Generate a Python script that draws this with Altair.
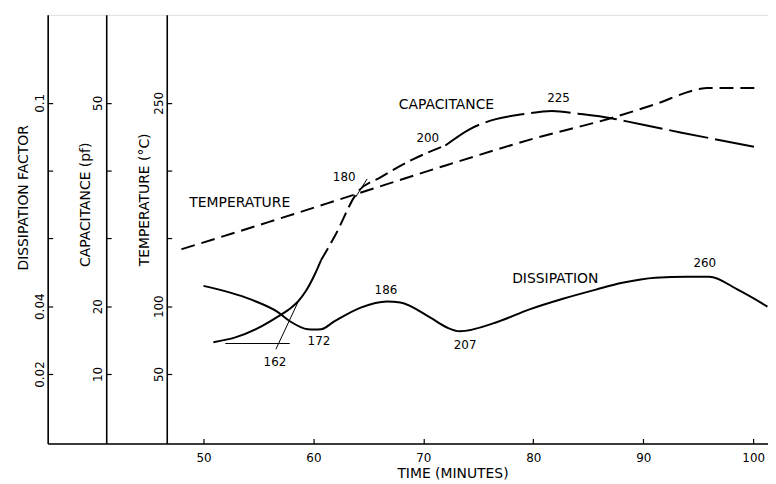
import altair as alt
import pandas as pd

FONT = "DejaVu Sans"

# ---- data ----
# Temperature (deg C) vs time (minutes)
temp_time = [48.0, 55.9, 64.0, 72.1, 80.2, 87.2, 91.1, 95.0, 95.8, 100.7]
temp_degc = [142, 162, 183, 204, 224, 239, 249, 260, 261, 261]

# Capacitance (pF) vs time
cap_time = [50.9, 52.9, 55.0, 56.8, 58.0, 58.6, 59.3, 60.1, 60.7, 61.9, 64.0, 66.1,
            69.1, 72.0, 74.2, 76.6, 79.0, 81.7, 84.1, 87.2, 88.4, 93.5, 100.5]
cap_pf = [14.7, 15.4, 16.8, 18.5, 19.8, 20.7, 22.2, 24.6, 26.8, 30.2, 36.8, 39.0,
          41.7, 43.7, 46.1, 47.6, 48.3, 48.8, 48.4, 47.7, 47.3, 45.6, 43.4]
cap_solid_end = 60.7
cap_short_dash_end = 72.0

# Dissipation factor vs time
diss_time = [50.0, 54.3, 56.8, 57.9, 59.5, 60.1, 60.7, 61.9, 64.3, 66.7, 67.9, 70.6,
             72.1, 73.3, 76.6, 79.6, 82.7, 85.7, 88.1, 91.1, 94.0, 96.0, 98.6, 101.3]
diss_factor = [0.0460, 0.0420, 0.0382, 0.0355, 0.0332, 0.0331, 0.0332, 0.0355, 0.0396,
               0.0414, 0.0411, 0.0367, 0.0338, 0.0326, 0.0352, 0.0390, 0.0422, 0.0449,
               0.0469, 0.0484, 0.0487, 0.0487, 0.0449, 0.0399]

# Curve names (placed at time / temperature-axis coordinates)
name_label = ["TEMPERATURE", "CAPACITANCE", "DISSIPATION"]
name_time = [53.3, 72.1, 82.0]
name_degc = [175.9, 248.6, 120.2]

# Temperature annotations along the curves
note_label = ["162", "172", "180", "186", "200", "207", "225", "260"]
note_time = [56.5, 60.5, 62.8, 66.6, 70.4, 73.8, 82.3, 95.6]
note_degc = [58.5, 74.4, 195.4, 111.7, 224.4, 71.2, 253.6, 131.7]

# Leader lines (time/temperature coordinates)
lead_t1 = [56.59, 51.99, 64.89]
lead_d1 = [68.3, 72.5, 193.9]
lead_t2 = [58.57, 57.85, 63.84]
lead_d2 = [102.5, 72.5, 180.5]

# Axis ticks
time_ticks = [50, 60, 70, 80, 90, 100]
temp_ticks = [50, 100, 150, 200, 250]
temp_hidden = [150, 200]
cap_ticks = [10, 20, 30, 40, 50]
cap_hidden = [30, 40]
diss_ticks = [0.02, 0.04, 0.06, 0.08, 0.1]
diss_hidden = [0.06, 0.08]

# ---- scales / layout ----
W, H = 726, 432
X_DOM = [35.83, 101.35]
T_DOM = [-1.2, 314.9]
C_DOM = [T_DOM[0] / 5, T_DOM[1] / 5]
D_DOM = [T_DOM[0] / 2500, T_DOM[1] / 2500]
CAP_AXIS_SHIFT = 59    # px right of the dissipation axis
TEMP_AXIS_SHIFT = 120  # px right of the dissipation axis

temp_df = pd.DataFrame({"time": temp_time, "degc": temp_degc})
cap_df = pd.DataFrame({"time": cap_time, "pf": cap_pf})
cap_solid = cap_df[cap_df.time <= cap_solid_end]
cap_dash1 = cap_df[(cap_df.time >= cap_solid_end) & (cap_df.time <= cap_short_dash_end)]
cap_dash2 = cap_df[cap_df.time >= cap_short_dash_end]
diss_df = pd.DataFrame({"time": diss_time, "factor": diss_factor})
name_df = pd.DataFrame({"label": name_label, "time": name_time, "degc": name_degc})
note_df = pd.DataFrame({"label": note_label, "time": note_time, "degc": note_degc})
lead_df = pd.DataFrame({"t1": lead_t1, "d1": lead_d1, "t2": lead_t2, "d2": lead_d2})

common_tick = dict(tickColor="black", tickWidth=1.2, tickSize=5, grid=False)

x_main_axis = alt.Axis(
    values=time_ticks, title="TIME (MINUTES)", grid=False, ticks=False,
    domainColor="black", domainWidth=1.6,
    labelFont=FONT, labelFontSize=12, labelColor="black", labelPadding=9.5,
    labelFlush=False,
    titleFont=FONT, titleFontSize=14, titleFontWeight="normal", titleColor="black",
    titleX=408, titleY=34, titleBaseline="alphabetic", titleAlign="center",
)
# inward-pointing ticks on the time axis: a top axis moved down onto the bottom line
x_tick_axis = alt.Axis(orient="top", offset=-H, values=time_ticks, labels=False,
                       domain=False, title=None, **common_tick)


def xenc(field="time", axis=None):
    return alt.X(f"{field}:Q", scale=alt.Scale(domain=X_DOM, nice=False, zero=False),
                 axis=axis)


def hide_expr(hidden):
    cond = " || ".join(f"datum.value == {v}" for v in hidden)
    return f"({cond}) ? '' : datum.label"


def yaxis(title, values, hidden, shift, tx, ty, fmt=None):
    kw = dict(
        orient="left", offset=-shift, values=values, labelExpr=hide_expr(hidden),
        title=title, grid=False, ticks=False,
        domainColor="black", domainWidth=1.6,
        labelFont=FONT, labelFontSize=12, labelColor="black",
        labelAngle=270, labelAlign="center", labelBaseline="alphabetic",
        labelPadding=4.5,
        titleFont=FONT, titleFontSize=14, titleFontWeight="normal", titleColor="black",
        titleAngle=270, titleX=tx, titleY=ty, titleBaseline="alphabetic",
        titleAlign="center",
    )
    if fmt:
        kw["format"] = fmt
    return alt.Axis(**kw)


def ytick_axis(values, shift):
    # right-oriented axis moved onto the left axis line: ticks point into the plot
    return alt.Axis(orient="right", offset=-(W - shift), values=values, labels=False,
                    domain=False, title=None, **common_tick)


def yenc(field, dom, axis=None):
    return alt.Y(f"{field}:Q", scale=alt.Scale(domain=dom, nice=False, zero=False),
                 axis=axis)


line_kw = dict(color="black", strokeWidth=2, interpolate="monotone")

diss_line = alt.Chart(diss_df).mark_line(**line_kw).encode(
    x=xenc(axis=x_main_axis),
    y=yenc("factor", D_DOM, yaxis("DISSIPATION FACTOR", diss_ticks, diss_hidden,
                                  0, -20, 184, ".2~f")),
)
diss_ticks_layer = alt.Chart(diss_df).mark_line(strokeOpacity=0).encode(
    x=xenc(axis=x_tick_axis),
    y=yenc("factor", D_DOM, ytick_axis(diss_ticks, 0)),
)

cap_line1 = alt.Chart(cap_solid).mark_line(**line_kw).encode(
    x=xenc(),
    y=yenc("pf", C_DOM, yaxis("CAPACITANCE (pf)", cap_ticks, cap_hidden,
                              CAP_AXIS_SHIFT, -17, 191)),
)
cap_ticks_layer = alt.Chart(cap_df).mark_line(strokeOpacity=0).encode(
    x=xenc(), y=yenc("pf", C_DOM, ytick_axis(cap_ticks, CAP_AXIS_SHIFT)))
cap_line2 = alt.Chart(cap_dash1).mark_line(strokeDash=[14, 6], **line_kw).encode(
    x=xenc(), y=yenc("pf", C_DOM))
cap_line3 = alt.Chart(cap_dash2).mark_line(strokeDash=[40, 7], **line_kw).encode(
    x=xenc(), y=yenc("pf", C_DOM))

temp_line = alt.Chart(temp_df).mark_line(strokeDash=[14, 7], color="black",
                                         strokeWidth=2, interpolate="monotone").encode(
    x=xenc(),
    y=yenc("degc", T_DOM, yaxis("TEMPERATURE (°C)", temp_ticks, temp_hidden,
                                TEMP_AXIS_SHIFT, -18, 186)),
)
temp_ticks_layer = alt.Chart(temp_df).mark_line(strokeOpacity=0).encode(
    x=xenc(), y=yenc("degc", T_DOM, ytick_axis(temp_ticks, TEMP_AXIS_SHIFT)))

names = alt.Chart(name_df).mark_text(font=FONT, fontSize=14, color="black",
                                     align="center", baseline="middle").encode(
    x=xenc(), y=yenc("degc", T_DOM), text="label:N")

notes = alt.Chart(note_df).mark_text(font=FONT, fontSize=12, color="black",
                                     align="center", baseline="middle").encode(
    x=xenc(), y=yenc("degc", T_DOM), text="label:N")

leaders = alt.Chart(lead_df).mark_rule(color="black", strokeWidth=1).encode(
    x=xenc("t1"), x2="t2:Q", y=yenc("d1", T_DOM), y2="d2:Q")

chart = alt.layer(
    diss_line, diss_ticks_layer, cap_line1, cap_ticks_layer, cap_line2, cap_line3,
    temp_line, temp_ticks_layer, names, notes, leaders
).resolve_scale(x="independent", y="independent").properties(
    width=W, height=H,
    autosize=alt.AutoSizeParams(type="none"),
    padding={"left": 40, "top": 5, "right": 0, "bottom": 39},
).configure_view(stroke=None).configure(background="white")

chart.save("out.html", embed_options={"renderer": "svg", "actions": False})
